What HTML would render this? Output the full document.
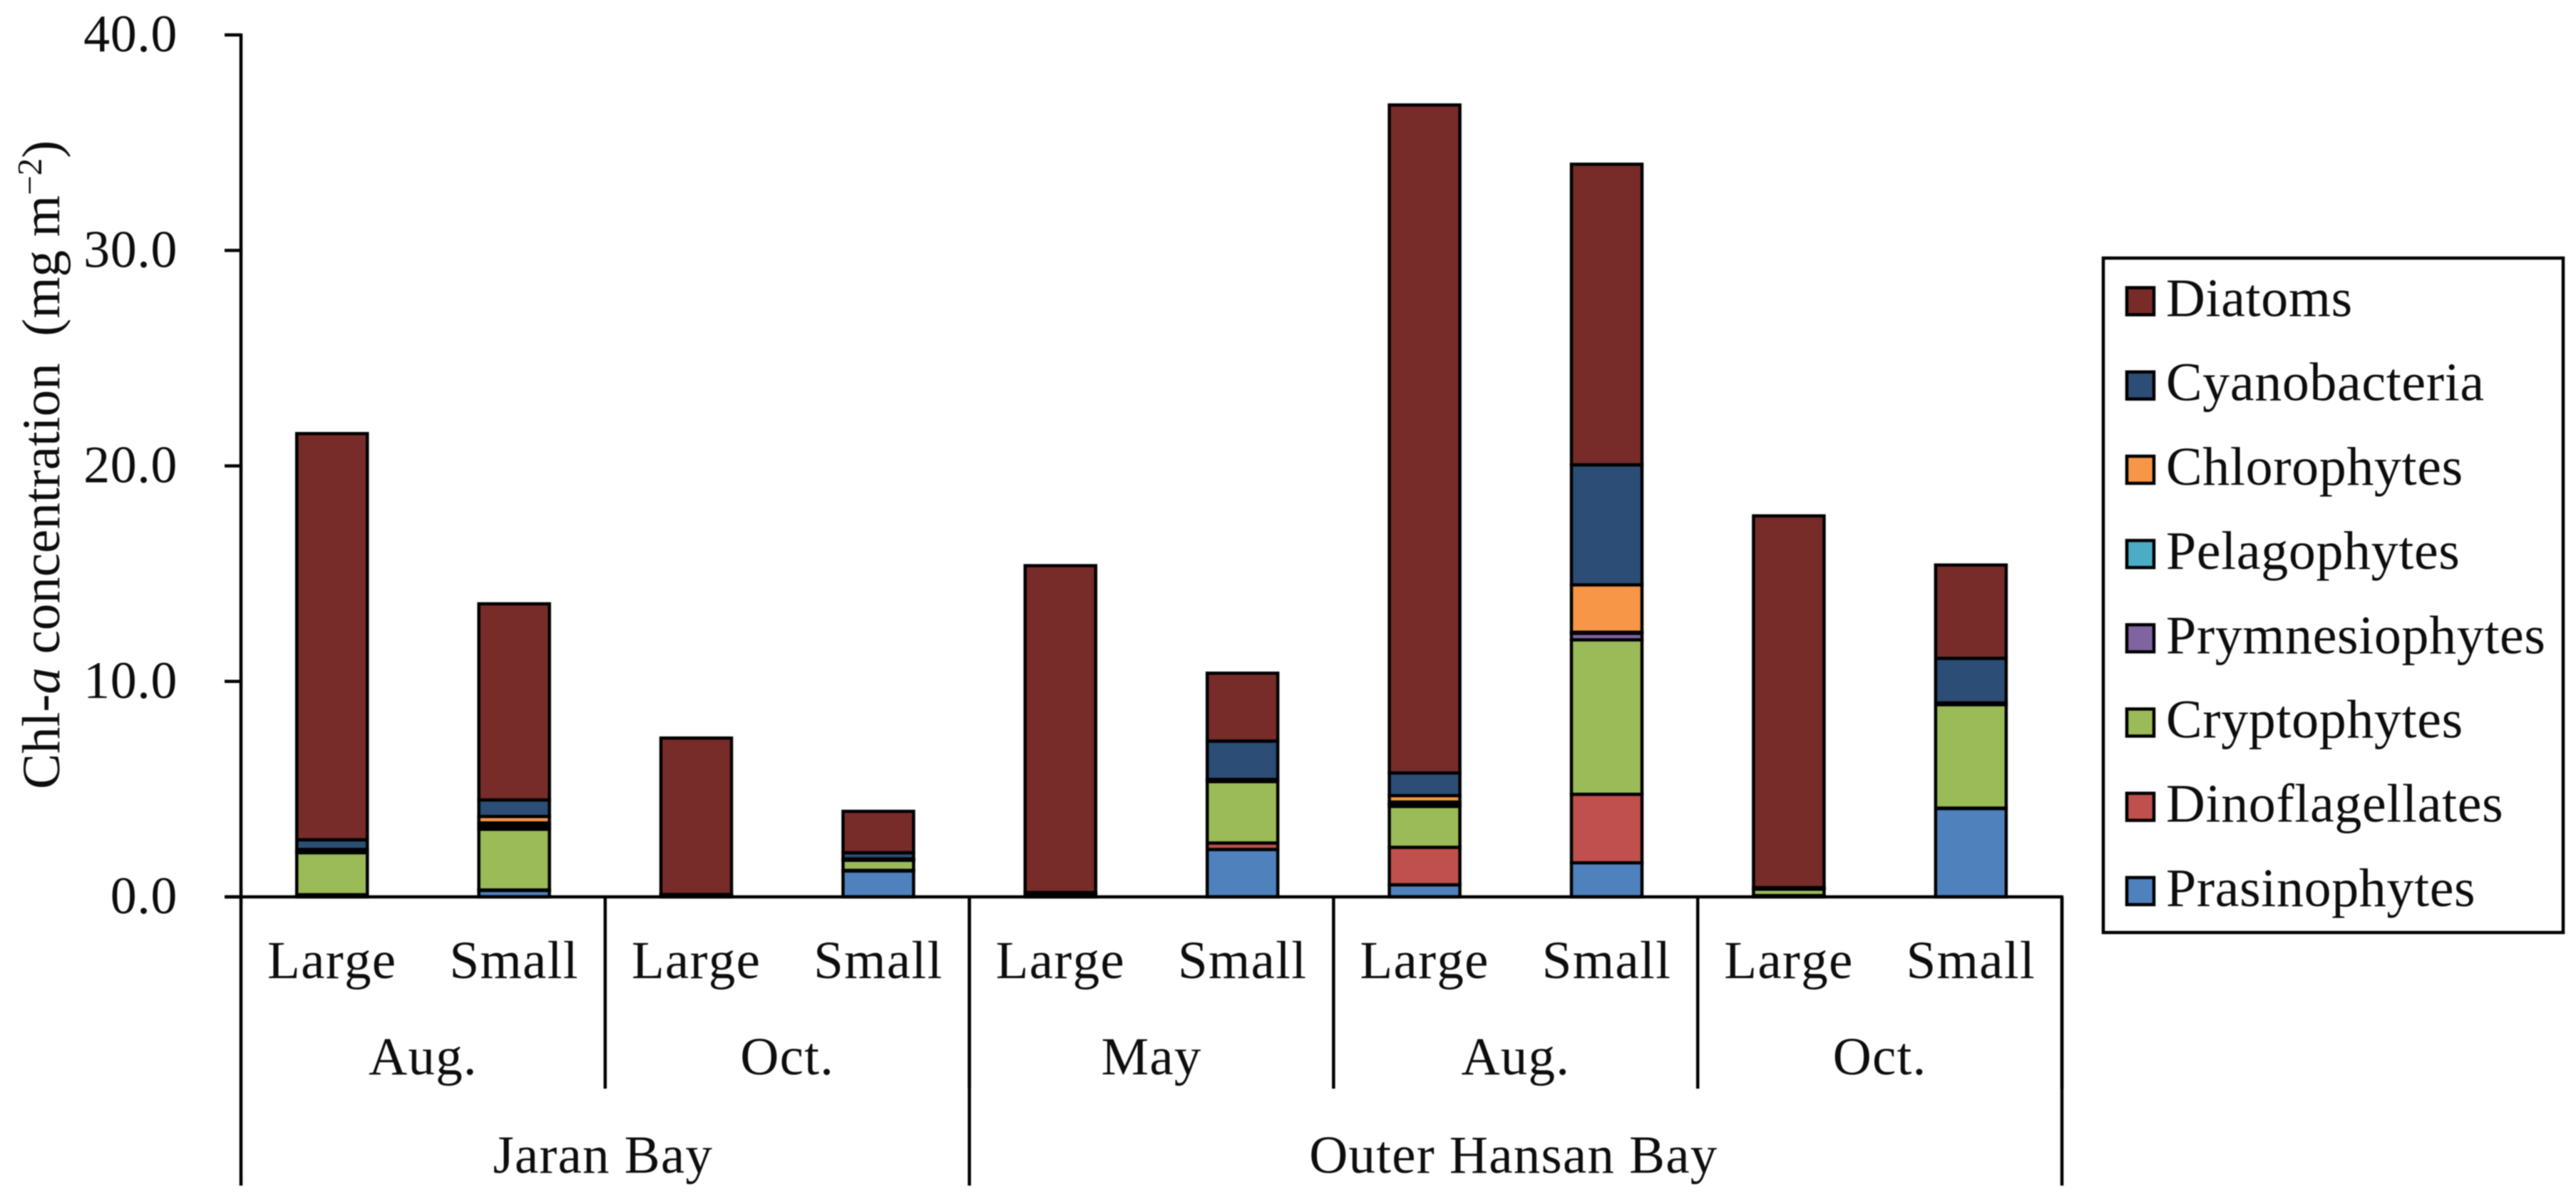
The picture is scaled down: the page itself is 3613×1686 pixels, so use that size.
<!DOCTYPE html>
<html lang="en">
<head>
<meta charset="utf-8">
<title>Chl-a concentration by phytoplankton group</title>
<style>
html,body{margin:0;padding:0;background:#fff;width:3613px;height:1686px;overflow:hidden}
svg{display:block;filter:blur(0.7px)}
text{font-family:"Liberation Serif","Times New Roman",serif;fill:#0d0d0d;font-kerning:none}
</style>
</head>
<body>
<svg id="chart" xmlns="http://www.w3.org/2000/svg" width="3613" height="1686" viewBox="0 0 3613 1686">
  <rect x="0" y="0" width="3613" height="1686" fill="#ffffff"/>
  <text transform="translate(83,1107) rotate(-90)" font-size="75" xml:space="preserve">Chl-<tspan font-style="italic">a</tspan> concentration  (mg m<tspan font-size="49" dy="-25">−2</tspan><tspan dy="25">)</tspan></text>
  <g id="bars"></g>
  <g id="axes"></g>
  <g id="legend"></g>
</svg>
<script>
// Category data
const sizeLabels = ['Large','Small','Large','Small','Large','Small','Large','Small','Large','Small'];
const monthLabels = ['Aug.','Oct.','May','Aug.','Oct.'];
const monthSpans = [2,2,2,2,2];
const bayLabels = ['Jaran Bay','Outer Hansan Bay'];
const baySpans = [4,6];
const yTickValues = [0,10,20,30,40];
const yTickLabels = ['0.0','10.0','20.0','30.0','40.0'];

// Series values, one entry per bar (bottom of the stack first)
const prasinophytes   = [0.05,0.30,0.02,1.20,0.05,2.20,0.56,1.58,0.03,4.10];
const dinoflagellates = [0.05,0.02,0.02,0.03,0.05,0.30,1.74,3.18,0.03,0.02];
const cryptophytes    = [1.95,2.82,0.03,0.47,0.05,2.85,1.90,7.17,0.30,4.80];
const prymnesiophytes = [0.03,0.15,0.01,0.02,0.01,0.03,0.10,0.30,0.02,0.02];
const pelagophytes    = [0.02,0.14,0.01,0.01,0.01,0.02,0.10,0.05,0.01,0.01];
const chlorophytes    = [0.10,0.30,0.01,0.03,0.02,0.05,0.30,2.20,0.02,0.05];
const cyanobacteria   = [0.45,0.77,0.01,0.29,0.01,1.78,1.05,5.57,0.02,2.07];
const diatoms         = [18.85,9.10,7.26,1.92,15.17,3.15,31.00,13.95,17.25,4.33];

const seriesNames = ['Prasinophytes','Dinoflagellates','Cryptophytes','Prymnesiophytes','Pelagophytes','Chlorophytes','Cyanobacteria','Diatoms'];
const seriesValues = [prasinophytes,dinoflagellates,cryptophytes,prymnesiophytes,pelagophytes,chlorophytes,cyanobacteria,diatoms];
const seriesColors = ['#4F81BD','#C0504D','#9BBB59','#8064A2','#4BACC6','#F79646','#2C4D75','#772C2A'];
const legendOrder = ['Diatoms','Cyanobacteria','Chlorophytes','Pelagophytes','Prymnesiophytes','Cryptophytes','Dinoflagellates','Prasinophytes'];

const NS = 'http://www.w3.org/2000/svg';
const plot = {left:338, right:2892, zero:1258, top:49, max:40};
const bandWidth = (plot.right - plot.left) / sizeLabels.length;
const barWidth = 99;
const yScale = v => plot.zero - (v / plot.max) * (plot.zero - plot.top);
const xBand = i => plot.left + i * bandWidth;
const xCenter = i => xBand(i + 0.5);
const slug = s => s.toLowerCase().replace(/[^a-z0-9]+/g,'-').replace(/^-|-$/g,'');

function make(tag, attrs, parent, content){
  const el = document.createElementNS(NS, tag);
  for (const k in attrs) el.setAttribute(k, attrs[k]);
  if (content !== undefined) el.textContent = content;
  parent.appendChild(el);
  return el;
}
function line(x1,y1,x2,y2,parent){
  return make('line',{x1,y1,x2,y2,stroke:'#000',"stroke-width":4.5},parent);
}

const barsG = document.getElementById('bars');
const axesG = document.getElementById('axes');
const legendG = document.getElementById('legend');

// Bars
sizeLabels.forEach((size,i)=>{
  let base = 0;
  seriesValues.forEach((values,s)=>{
    const v = values[i];
    const yTop = yScale(base + v);
    const yBot = yScale(base);
    const el = make('rect',{x:xCenter(i)-barWidth/2,y:yTop,width:barWidth,height:yBot-yTop,fill:seriesColors[s],stroke:'#000',"stroke-width":4.5},barsG);
    
    
    base += v;
  });
});

// Y axis line and ticks
const yAxisLine = line(plot.left, plot.top-2, plot.left, 1663, axesG);


const xAxisLine = line(315, plot.zero, plot.right+2, plot.zero, axesG);



yTickValues.forEach((v,i)=>{
  const t = line(315, yScale(v), plot.left, yScale(v), axesG);
  
  
  const lab = make('text',{x:249,y:yScale(v)+23,"text-anchor":'end',"font-size":74,"letter-spacing":0.6},axesG,yTickLabels[i]);
  
  
});

// Size labels
sizeLabels.forEach((size,i)=>{
  const lab = make('text',{x:xCenter(i),y:1372,"text-anchor":'middle',"font-size":75,"letter-spacing":1.3},axesG,size);
  
  
});

// Month labels and dividers
let monthStart = 0;
monthLabels.forEach((m,i)=>{
  const end = monthStart + monthSpans[i];
  const lab = make('text',{x:(xBand(monthStart)+xBand(end))/2,y:1507,"text-anchor":'middle',"font-size":75,"letter-spacing":1.2},axesG,m);
  
  
  const d = line(xBand(end), plot.zero, xBand(end), 1527, axesG);
  
  
  monthStart = end;
});

// Bay labels and dividers
let bayStart = 0;
bayLabels.forEach((b,i)=>{
  const end = bayStart + baySpans[i];
  const lab = make('text',{x:(xBand(bayStart)+xBand(end))/2-3,y:1645,"text-anchor":'middle',"font-size":75,"letter-spacing":1.2},axesG,b);
  
  
  const d = line(xBand(end), plot.zero, xBand(end), 1663, axesG);
  
  
  bayStart = end;
});

// Legend
const legendBox = make('rect',{x:2950,y:362,width:645,height:946,fill:'#fff',stroke:'#000',"stroke-width":4.5},legendG);


legendOrder.forEach((name,i)=>{
  const cy = 422.5 + i * 118.2;
  const s = seriesNames.indexOf(name);
  const sw = make('rect',{x:2983,y:cy-19,width:38,height:38,fill:seriesColors[s],stroke:'#000',"stroke-width":4.5},legendG);
  
  
  const lab = make('text',{x:3038,y:cy+21,"font-size":76,"letter-spacing":0.6},legendG,name);
  
  
});
</script>
</body>
</html>
